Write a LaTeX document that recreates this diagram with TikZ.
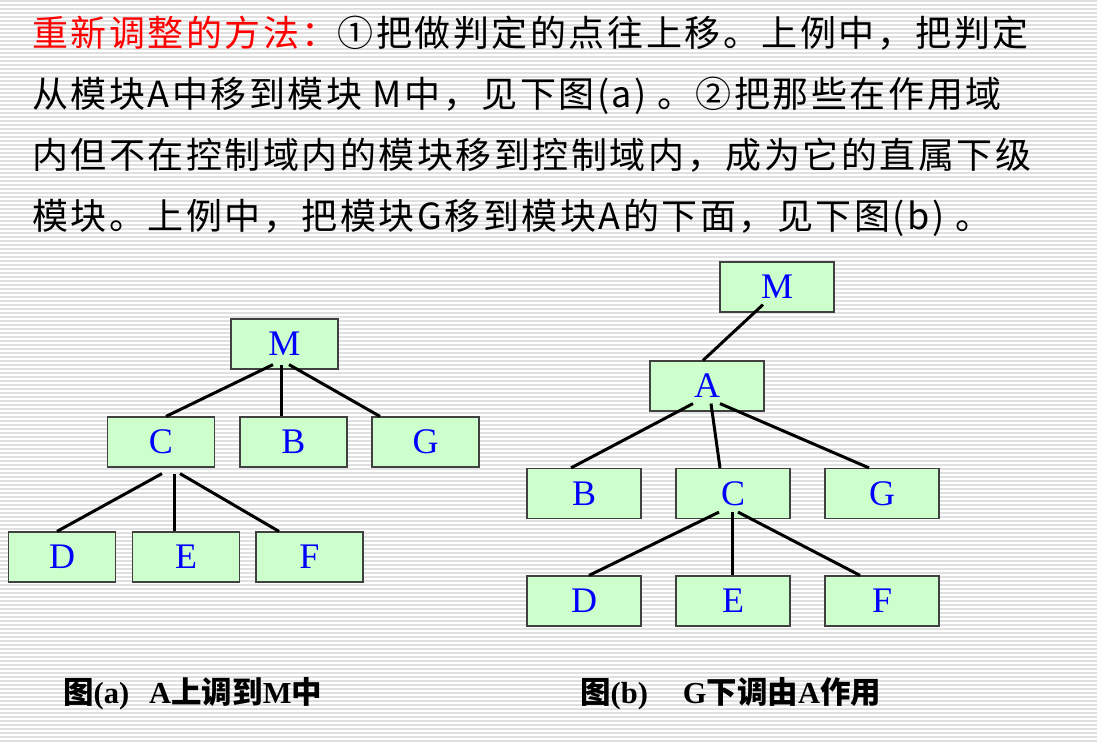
\documentclass[tikz,border=0pt]{standalone}
\usepackage{fontspec}
\setmainfont{Liberation Serif}
\newfontfamily\cjk[LetterSpace=7]{Noto Sans CJK SC}
\newfontfamily\cjkcap{Noto Sans CJK SC}
\definecolor{boxgreen}{RGB}{204,255,204}
\definecolor{stripegray}{RGB}{224,224,224}

\begin{document}
\begin{tikzpicture}[x=1pt, y=-1pt,
        module/.style ={rectangle, draw=black!75, line width=1.2pt, fill=boxgreen, text=blue,
        minimum width=107pt, minimum height=50pt, inner sep=0pt, font=\fontsize{36}{36}\selectfont},
        wide/.style ={module, minimum width=114pt},
        link/.style ={line width=3pt},
        para/.style ={anchor=base west, inner sep=0pt, font=\cjk\fontsize{36}{36}\selectfont},
        caption/.style ={anchor=base west, inner sep=0pt, font=\bfseries\fontsize{30.5}{30.5}\selectfont}]

    \useasboundingbox (0,0) rectangle (1097,744);
    %fondo rayado
    \fill[white] (0,0) rectangle (1097,744);
    \foreach \yy in {1,5,...,744}
        \draw[stripegray, line width=1.2pt] (0,\yy) -- (1097,\yy);

    %texto
    \node[para] (line1) at (32,46) {\textcolor{red}{重新调整的方法：}①把做判定的点往上移。上例中，把判定};
    \node[para] (line2) at (32,107) {从模块A中移到模块 M中，见下图(a) 。②把那些在作用域};
    \node[para] (line3) at (32,168) {内但不在控制域内的模块移到控制域内，成为它的直属下级};
    \node[para] (line4) at (32,229) {模块。上例中，把模块G移到模块A的下面，见下图(b) 。};

    %figura (a)
    \node[module] (aM) at (284.5, 344) {M};
    \node[module] (aC) at (161, 442) {C};
    \node[module] (aB) at (293.5, 442) {B};
    \node[module] (aG) at (425.5, 442) {G};
    \node[module] (aD) at (62, 557) {D};
    \node[module] (aE) at (186, 557) {E};
    \node[module] (aF) at (309.5, 557) {F};

    \draw[link] ([xshift=-11.5pt, yshift=5pt]aM.south) -- ([xshift=5pt]aC.north);
    \draw[link] ([xshift=-3.5pt, yshift=5pt]aM.south) -- ([xshift=-12.5pt]aB.north);
    \draw[link] ([xshift=4.5pt, yshift=5pt]aM.south) -- ([xshift=-45.5pt]aG.north);
    \draw[link] ([xshift=1pt, yshift=-6pt]aC.south) -- ([xshift=-5pt]aD.north);
    \draw[link] ([xshift=13pt, yshift=-6pt]aC.south) -- ([xshift=-12pt]aE.north);
    \draw[link] ([xshift=19pt, yshift=-6pt]aC.south) -- ([xshift=-30.5pt]aF.north);

    %figura (b)
    \node[wide] (bM) at (777, 287) {M};
    \node[wide] (bA) at (707, 386) {A};
    \node[wide] (bB) at (584, 493.5) {B};
    \node[wide] (bC) at (733, 493.5) {C};
    \node[wide] (bG) at (882, 493.5) {G};
    \node[wide] (bD) at (584, 601) {D};
    \node[wide] (bE) at (733, 601) {E};
    \node[wide] (bF) at (882, 601) {F};

    \draw[link] ([xshift=-14pt, yshift=8pt]bM.south) -- ([xshift=-4pt]bA.north);
    \draw[link] ([xshift=-14pt, yshift=8pt]bA.south) -- ([xshift=-13pt]bB.north);
    \draw[link] ([xshift=4pt, yshift=8pt]bA.south) -- ([xshift=-13pt]bC.north);
    \draw[link] ([xshift=13pt, yshift=8pt]bA.south) -- ([xshift=-13pt]bG.north);
    \draw[link] ([xshift=-14pt, yshift=7pt]bC.south) -- ([xshift=5pt]bD.north);
    \draw[link] ([xshift=-1pt, yshift=7pt]bC.south) -- ([xshift=-1pt]bE.north);
    \draw[link] ([xshift=5pt, yshift=7pt]bC.south) -- ([xshift=-22pt]bF.north);

    %pies de figura
    \node[caption] (capa) at (63, 703) {{\cjkcap 图}(a)\hspace{20pt}A{\cjkcap 上调到}M{\cjkcap 中}};
    \node[caption] (capb) at (580, 703) {{\cjkcap 图}(b)\hspace{35pt}G{\cjkcap 下调由}A{\cjkcap 作用}};
\end{tikzpicture}
\end{document}
